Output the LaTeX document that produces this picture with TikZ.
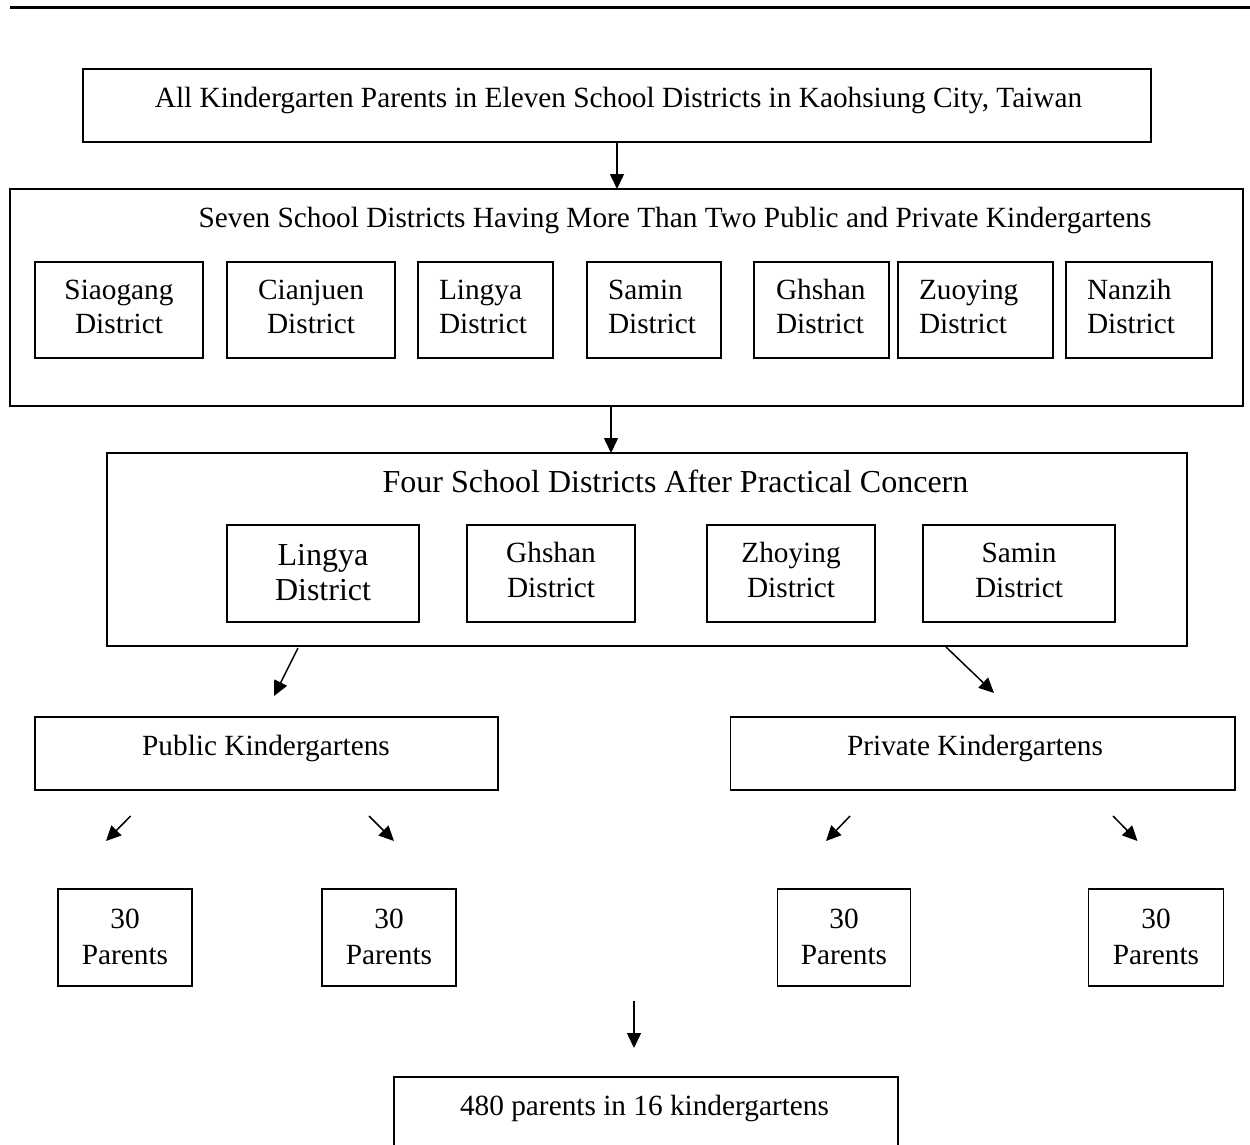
\documentclass[tikz,border=0pt]{standalone}
\usepackage{fontspec}
\setmainfont{Liberation Serif}
\usetikzlibrary{arrows.meta}
\begin{document}
\begin{tikzpicture}[x=1pt,y=-1pt,
  box/.style={draw,line width=1.4pt,inner sep=0pt,outer sep=0pt},
  lbl/.style={inner sep=0pt,outer sep=0pt,font=\fontsize{29.3pt}{34pt}\selectfont},
  biglbl/.style={inner sep=0pt,outer sep=0pt,font=\fontsize{32pt}{36pt}\selectfont},
  arr/.style={line width=1.5pt,-{Triangle[length=15pt,width=14pt]}}]
\useasboundingbox (0,0) rectangle (1250,1144);
\clip (0,0) rectangle (1250,1144);
% top rule
\draw[line width=2.2pt] (10,7.5) -- (1250,7.5);

% level 1
\node[box,minimum width=1068pt,minimum height=73pt] (b1) at (617,105.5) {};
\node[lbl,anchor=base] (t1) at (618.5,107) {All Kindergarten Parents in Eleven School Districts in Kaohsiung City, Taiwan};

% level 2
\node[box,minimum width=1233pt,minimum height=217pt] (b2) at (626.5,297.5) {};
\node[lbl,anchor=base] (t2) at (675,227) {Seven School Districts Having More Than Two Public and Private Kindergartens};
\node[box,minimum width=168pt,minimum height=96pt] (s1) at (119,310) {};
\node[box,minimum width=168pt,minimum height=96pt] (s2) at (311,310) {};
\node[box,minimum width=135pt,minimum height=96pt] (s3) at (485.5,310) {};
\node[box,minimum width=134pt,minimum height=96pt] (s4) at (654,310) {};
\node[box,minimum width=135pt,minimum height=96pt] (s5) at (821.5,310) {};
\node[box,minimum width=155pt,minimum height=96pt] (s6) at (975.5,310) {};
\node[box,minimum width=146pt,minimum height=96pt] (s7) at (1139,310) {};
\node[lbl,anchor=base] (s1a) at (119,299) {Siaogang};
\node[lbl,anchor=base] (s1b) at (119,333) {District};
\node[lbl,anchor=base] (s2a) at (311,299) {Cianjuen};
\node[lbl,anchor=base] (s2b) at (311,333) {District};
\node[lbl,anchor=base west] (s3a) at (439,299) {Lingya};
\node[lbl,anchor=base west] (s3b) at (439,333) {District};
\node[lbl,anchor=base west] (s4a) at (608,299) {Samin};
\node[lbl,anchor=base west] (s4b) at (608,333) {District};
\node[lbl,anchor=base west] (s5a) at (776,299) {Ghshan};
\node[lbl,anchor=base west] (s5b) at (776,333) {District};
\node[lbl,anchor=base west] (s6a) at (919,299) {Zuoying};
\node[lbl,anchor=base west] (s6b) at (919,333) {District};
\node[lbl,anchor=base west] (s7a) at (1087,299) {Nanzih};
\node[lbl,anchor=base west] (s7b) at (1087,333) {District};

% level 3
\node[box,minimum width=1080pt,minimum height=193pt] (b3) at (647,549.5) {};
\node[biglbl,anchor=base] (t3) at (675.5,492) {Four School Districts After Practical Concern};
\node[box,minimum width=192pt,minimum height=97pt] (f1) at (323,573.5) {};
\node[box,minimum width=168pt,minimum height=97pt] (f2) at (551,573.5) {};
\node[box,minimum width=168pt,minimum height=97pt] (f3) at (791,573.5) {};
\node[box,minimum width=192pt,minimum height=97pt] (f4) at (1019,573.5) {};
\node[biglbl,anchor=base] (f1a) at (323,565) {Lingya};
\node[biglbl,anchor=base] (f1b) at (323,600) {District};
\node[lbl,anchor=base] (f2a) at (551,562) {Ghshan};
\node[lbl,anchor=base] (f2b) at (551,597) {District};
\node[lbl,anchor=base] (f3a) at (791,562) {Zhoying};
\node[lbl,anchor=base] (f3b) at (791,597) {District};
\node[lbl,anchor=base] (f4a) at (1019,562) {Samin};
\node[lbl,anchor=base] (f4b) at (1019,597) {District};

% level 4
\node[box,minimum width=463pt,minimum height=73pt] (pub) at (266.5,753.5) {};
\node[lbl,anchor=base] (pubt) at (266,755) {Public Kindergartens};
\node[box,minimum width=504.5pt,minimum height=73pt] (pri) at (982.75,753.5) {};
\node[lbl,anchor=base] (prit) at (975,755) {Private Kindergartens};

% level 5
\node[box,minimum width=134pt,minimum height=97pt] (p1) at (125,937.5) {};
\node[box,minimum width=134pt,minimum height=97pt] (p2) at (389,937.5) {};
\node[box,minimum width=133.5pt,minimum height=97pt] (p3) at (844,937.5) {};
\node[box,minimum width=134.5pt,minimum height=97pt] (p4) at (1156,937.5) {};
\node[lbl,anchor=base] (p1a) at (125,928) {30};
\node[lbl,anchor=base] (p1b) at (125,964) {Parents};
\node[lbl,anchor=base] (p2a) at (389,928) {30};
\node[lbl,anchor=base] (p2b) at (389,964) {Parents};
\node[lbl,anchor=base] (p3a) at (844,928) {30};
\node[lbl,anchor=base] (p3b) at (844,964) {Parents};
\node[lbl,anchor=base] (p4a) at (1156,928) {30};
\node[lbl,anchor=base] (p4b) at (1156,964) {Parents};

% final
\node[box,minimum width=504pt,minimum height=90pt] (fin) at (646,1122) {};
\node[lbl,anchor=base] (fint) at (644.5,1115) {480 parents in 16 kindergartens};

% connectors
\coordinate (a2) at (611,0);
\draw[arr] (b1.south) -- (b1.south |- b2.north);
\draw[arr] (a2 |- b2.south) -- (a2 |- b3.north);
\coordinate (l1s) at (298,648); \coordinate (l1e) at (274,696);
\coordinate (r1s) at (946,647); \coordinate (r1e) at (994,693);
\draw[arr] (l1s) -- (l1e);
\draw[arr] (r1s) -- (r1e);
\coordinate (q1s) at (130.6,816); \coordinate (q1e) at (106,841);
\coordinate (q2s) at (369,816); \coordinate (q2e) at (394,841);
\coordinate (q3s) at (850,816); \coordinate (q3e) at (826,841);
\coordinate (q4s) at (1113,816); \coordinate (q4e) at (1137.5,841);
\draw[arr] (q1s) -- (q1e);
\draw[arr] (q2s) -- (q2e);
\draw[arr] (q3s) -- (q3e);
\draw[arr] (q4s) -- (q4e);
\coordinate (ds) at (634,1001); \coordinate (de) at (634,1048);
\draw[arr] (ds) -- (de);
\end{tikzpicture}
\end{document}
